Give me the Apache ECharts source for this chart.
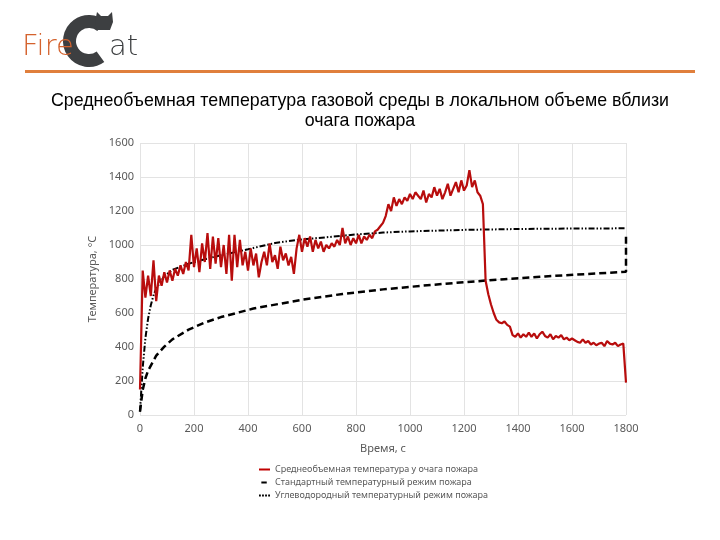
<!DOCTYPE html>
<html><head><meta charset="utf-8">
<script src="https://cdn.jsdelivr.net/npm/echarts@6/dist/echarts.min.js"></script>
<style>html,body{margin:0;padding:0;background:#fff}#c{width:720px;height:540px}</style>
</head><body><div id="c"></div>
<script>
// Measured (red) series: time step 10 s, starting at t = 0
const redStep = 10;
const redTemp = [
150,850,690,820,700,910,670,820,760,840,
780,850,790,860,820,880,830,900,850,1060,
870,980,840,1010,900,1070,860,1050,890,1040,
870,1000,830,1060,790,1060,870,1030,880,960,
850,980,880,950,810,900,960,880,1010,900,
940,860,990,910,950,880,930,830,980,1060,
960,1040,990,1050,960,1030,980,1020,960,1000,
980,1010,990,1030,1000,1100,1010,1050,1000,1040,
1010,1060,1010,1050,1030,1060,1040,1080,1090,1110,
1130,1170,1240,1200,1280,1230,1270,1240,1280,1260,
1300,1270,1310,1290,1270,1320,1250,1300,1280,1340,
1290,1330,1270,1310,1360,1290,1330,1370,1310,1380,
1320,1350,1440,1340,1380,1310,1290,1240,790,710,
650,600,560,545,540,550,530,520,470,460,
480,455,475,460,485,460,480,450,475,490,
465,455,475,445,465,455,470,445,455,440,
450,440,430,425,445,425,435,415,425,410,
420,425,405,435,420,415,425,405,415,420,
190
];

// Standard temperature curve (dashed)
const stdTime = [0,10,20,30,60,90,120,180,240,300,420,600,750,900,1050,1200,1350,1500,1650,1800,1800];
const stdTemp = [20,147,215,261,349,402,445,502,544,576,626,678,712,739,761,781,799,815,829,842,1050];

// Hydrocarbon temperature curve (dash-dot-dot)
const hcTime = [0,10,20,30,40,50,60,90,120,180,240,300,400,500,600,700,800,900,1000,1200,1400,1600,1800];
const hcTemp = [20,278,452,567,646,704,744,817,854,890,916,940,975,1012,1033,1047,1062,1073,1080,1089,1094,1097,1098];

const xTicks = [0,200,400,600,800,1000,1200,1400,1600,1800];
const yTicks = [0,200,400,600,800,1000,1200,1400,1600];

const seriesNames = [
  'Среднеобъемная температура у очага пожара',
  'Стандартный температурный режим пожара',
  'Углеводородный температурный режим пожара'
];
const titleLines = ['Среднеобъемная температура газовой среды в локальном объеме вблизи', 'очага пожара'];

const redData = redTemp.map((v,i)=>[i*redStep, v]);
const stdData = stdTime.map((t,i)=>[t, stdTemp[i]]);
const hcData = hcTime.map((t,i)=>[t, hcTemp[i]]);

const chart = echarts.init(document.getElementById('c'), null, {renderer:'canvas'});
const axisFont = {color:'#595959', fontSize:11, fontFamily:'Noto Sans'};
chart.setOption({
  animation:false,
  backgroundColor:'#fff',
  grid:{left:140, right:94, top:143, bottom:125},
  xAxis:{
    type:'value', min:0, max:1800, interval:200,
    name:'Время, с', nameLocation:'middle', nameGap:28,
    nameTextStyle:axisFont,
    axisLine:{show:false}, axisTick:{show:false},
    axisLabel:Object.assign({margin:8}, axisFont, {formatter:v=>xTicks.includes(v)?String(v):''}),
    splitLine:{show:true, lineStyle:{color:'#e3e3e3', width:1}}
  },
  yAxis:{
    type:'value', min:0, max:1600, interval:200,
    name:'Температура, °C', nameLocation:'middle', nameGap:34,
    nameTextStyle:axisFont,
    axisLine:{show:false}, axisTick:{show:false},
    axisLabel:Object.assign({margin:6}, axisFont, {formatter:v=>yTicks.includes(v)?String(v):''}),
    splitLine:{show:true, lineStyle:{color:'#e3e3e3', width:1}}
  },
  legend:{
    orient:'vertical', left:254, top:460, itemGap:4, itemWidth:11, itemHeight:9,
    textStyle:{fontFamily:'Noto Sans', fontSize:9, color:'#595959'},
    data:[
      {name:seriesNames[0], icon:'path://M0,4h11v2h-11z', itemStyle:{color:'#c00000'}},
      {name:seriesNames[1], icon:'path://M0,0h0.01v0.01h-0.01z M11,10h0.01v0.01h-0.01z M2,4h6v2.2h-6z', itemStyle:{color:'#000'}},
      {name:seriesNames[2], icon:'path://M0,4h1.8v2h-1.8z M3,4h1.8v2h-1.8z M6,4h1.8v2h-1.8z M9,4h1.8v2h-1.8z', itemStyle:{color:'#000'}}
    ]
  },
  series:[
    {name:seriesNames[2], type:'line', data:hcData, symbol:'none', z:2,
     lineStyle:{color:'#000', width:2, type:[6,2,1.5,2,1.5,2]}, itemStyle:{color:'#000'}},
    {name:seriesNames[1], type:'line', data:stdData, symbol:'none', z:2,
     lineStyle:{color:'#000', width:2.5, type:[7,4]}, itemStyle:{color:'#000'}},
    {name:seriesNames[0], type:'line', data:redData, symbol:'none', z:3,
     lineStyle:{color:'#b80d0d', width:2.2}, itemStyle:{color:'#b80d0d'}}
  ],
  graphic:[
    {type:'text', x:360, y:91, style:{text:titleLines.join('\n'), align:'center', font:'17.8px "Liberation Sans"', lineHeight:20, fill:'#000'}},
    {type:'text', x:22, y:47, z:1, style:{text:'Fire', font:'200 29px "DejaVu Sans"', verticalAlign:'middle', fill:'#d4622d'}},
    {type:'arc', z:0, shape:{cx:89, cy:41, r:19.5, startAngle:Math.PI*0.3, endAngle:Math.PI*1.72, clockwise:true},
     style:{stroke:'#3d3f41', lineWidth:13, fill:null}},
    {type:'polygon', shape:{points:[[95,22],[97,12],[101,16],[108,16],[112,12],[113,22],[110,30],[97,30]]}, style:{fill:'#3d3f41'}},
    {type:'text', x:109, y:47, style:{text:'at', font:'200 29px "DejaVu Sans"', verticalAlign:'middle', fill:'#3d3f41'}},
    {type:'rect', shape:{x:25, y:70, width:670, height:3}, style:{fill:'#e07f3c'}}
  ]
});
</script></body></html>
